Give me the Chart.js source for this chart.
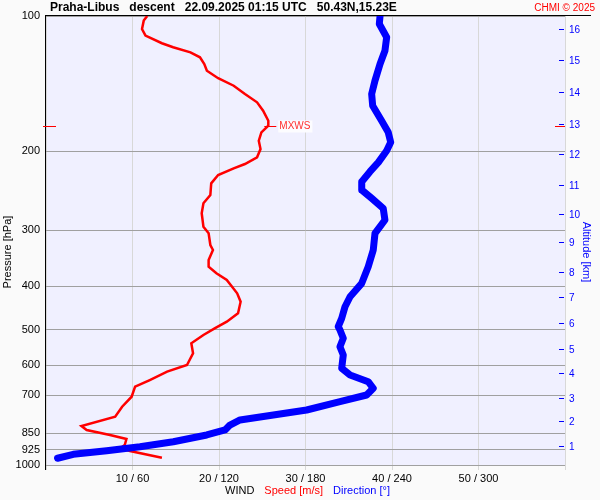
<!DOCTYPE html>
<html>
<head>
<meta charset="utf-8">
<script src="https://cdn.jsdelivr.net/npm/chart.js@4.4.0/dist/chart.umd.min.js"></script>
<style>
  html, body { margin: 0; padding: 0; background: #fafafa; }
  #wrap { width: 600px; height: 500px; }
</style>
</head>
<body>
<div id="wrap"><canvas id="windChart" width="600" height="500"></canvas></div>
<script>
// wind speed profile: pressure [hPa] / speed [m/s]
var speedPressure = [100, 102.4, 106.9, 110.6, 115.0, 117.4, 120.5, 123.6, 127.9, 132.4,
  137.6, 143.0, 149.2, 155.7, 162.5, 171.1, 175.5, 181.6, 189.6, 197.8,
  206.4, 213.6, 218.4, 226.0, 235.9, 250.4, 261.3, 275.0, 294.7, 304.8,
  323.6, 332.0, 349.5, 361.7, 374.2, 387.3, 414.6, 432.8, 459.4, 479.6,
  496.2, 513.5, 535.8, 563.9, 598.8, 619.7, 646.7, 669.3, 704.6, 741.7,
  780.5, 818.9, 835.6, 857.4, 875.2, 902.6, 917.9, 930.8, 963.2];
var speedValues = [11.7, 11.3, 11.1, 11.5, 13.4, 14.7, 16.7, 17.8, 18.3, 18.6,
  19.9, 21.7, 23.0, 24.4, 25.1, 25.7, 25.7, 24.9, 24.6, 24.8,
  24.4, 23.0, 21.7, 19.9, 19.1, 19.0, 18.2, 18.0, 18.2, 18.8,
  19.0, 19.3, 18.8, 18.8, 19.7, 20.9, 22.1, 22.5, 22.2, 20.9,
  19.5, 18.2, 16.8, 17.0, 16.3, 14.0, 12.0, 10.3, 9.9, 8.8,
  8.0, 4.1, 4.7, 7.4, 9.3, 9.1, 8.6, 9.7, 13.4];

// wind direction profile: pressure [hPa] / direction [deg]
var dirPressure = [100, 104.2, 111.5, 119.5, 127.9, 139.3, 149.2, 158.4, 171.1, 181.6,
  191.1, 199.5, 211.8, 222.2, 233.9, 244.1, 254.7, 268.1, 284.7, 304.8,
  332.0, 361.7, 393.9, 421.9, 444.1, 471.4, 492.0, 500.4, 522.2, 545.3,
  568.9, 609.0, 630.4, 652.4, 674.8, 698.4, 722.8, 754.3, 773.7, 793.9,
  814.8, 835.6, 857.4, 887.8, 910.6, 929.4, 946.7, 966.0];
var dirValues = [231.7, 231.2, 236.3, 235.1, 231.7, 228.2, 225.9, 226.6, 232.8, 237.4,
  239.1, 236.3, 230.5, 224.7, 219.0, 219.0, 225.9, 233.9, 235.1, 228.2,
  227.0, 223.5, 219.0, 210.9, 207.4, 205.1, 202.7, 203.9, 206.2, 203.9,
  206.2, 205.1, 210.9, 223.5, 227.0, 222.4, 203.9, 180.8, 157.7, 134.6,
  127.6, 124.2, 111.5, 88.3, 65.2, 42.1, 18.9, 8.0];

// axes
var pressureTicks = [100, 200, 300, 400, 500, 600, 700, 850, 925, 1000];
var speedTicks = [10, 20, 30, 40, 50];
var altitudeKm = [1, 2, 3, 4, 5, 6, 7, 8, 9, 10, 11, 12, 13, 14, 15, 16];
var altitudePressure = [912.1, 802.3, 712.9, 627.0, 554.4, 485.3, 424.8, 373.6, 320.3, 277.5,
  239.0, 204.0, 174.9, 148.4, 126.0, 107.4];

// max wind
var mxwsPressure = 175.5;
var mxwsSpeed = 25.7;

var FONT = '"Liberation Sans", Arial, sans-serif';
Chart.defaults.font.family = FONT;

var speedData = speedPressure.map(function(p, i) { return { x: speedValues[i], y: p }; });
var dirData = dirPressure.map(function(p, i) { return { x: dirValues[i], y: p }; });

var decor = {
    id: 'decor',
    beforeDraw: function(chart) {
        var c = chart.ctx, a = chart.chartArea;
        c.save();
        c.fillStyle = '#fafafa';
        c.fillRect(0, 0, chart.width, chart.height);
        c.fillStyle = '#f0f0ff';
        c.fillRect(a.left, a.top, a.right - a.left, a.bottom - a.top);
        c.restore();
    },
    afterDraw: function(chart) {
        var c = chart.ctx, a = chart.chartArea;
        var xs = chart.scales.x, yp = chart.scales.y, ya = chart.scales.yAlt;
        c.save();

        // frame lines
        c.strokeStyle = '#000';
        c.lineWidth = 1;
        c.beginPath();
        c.moveTo(45, 15.5); c.lineTo(591, 15.5);
        c.moveTo(45.5, 15); c.lineTo(45.5, 470);
        c.stroke();

        // altitude tick marks
        c.strokeStyle = '#0000ff';
        c.beginPath();
        ya.ticks.forEach(function(t) {
            var py = Math.round(ya.getPixelForValue(t.value)) - 0.5;
            c.moveTo(a.right - 6, py); c.lineTo(a.right - 1, py);
        });
        c.stroke();

        // max wind marker
        var my = Math.round(yp.getPixelForValue(mxwsPressure)) + 0.5;
        var mx = xs.getPixelForValue(mxwsSpeed);
        c.strokeStyle = '#ff0000';
        c.beginPath();
        c.moveTo(43, my); c.lineTo(56, my);
        c.moveTo(a.right - 10, my); c.lineTo(a.right, my);
        c.moveTo(mx - 4, my); c.lineTo(mx + 8, my);
        c.stroke();
        c.font = '10px ' + FONT;
        c.textBaseline = 'middle';
        var w = c.measureText('MXWS').width;
        c.fillStyle = '#fcfcff';
        c.fillRect(mx + 10, my - 6, w + 3, 12);
        c.fillStyle = '#ff3030';
        c.fillText('MXWS', mx + 11, my);

        // title
        c.fillStyle = '#000';
        c.font = 'bold 12px ' + FONT;
        c.textAlign = 'left';
        c.fillText('Praha-Libus   descent   22.09.2025 01:15 UTC   50.43N,15.23E', 50, 8);
        c.font = '10px ' + FONT;
        c.fillStyle = '#ff0000';
        c.textAlign = 'right';
        c.fillText('CHMI \u00a9 2025', 595, 8);

        // bottom legend text
        c.font = '11px ' + FONT;
        c.textAlign = 'left';
        var x = 225;
        c.fillStyle = '#000';
        c.fillText('WIND', x, 491);
        x += c.measureText('WIND').width + 10;
        c.fillStyle = '#ff0000';
        c.fillText('Speed [m/s]', x, 491);
        x += c.measureText('Speed [m/s]').width + 10;
        c.fillStyle = '#0000ff';
        c.fillText('Direction [\u00b0]', x, 491);

        // axis titles
        c.textAlign = 'center';
        c.fillStyle = '#000';
        c.save();
        c.translate(8, 252);
        c.rotate(-Math.PI / 2);
        c.fillText('Pressure [hPa]', 0, 0);
        c.restore();
        c.fillStyle = '#0000ff';
        c.save();
        c.translate(586, 252);
        c.rotate(Math.PI / 2);
        c.fillText('Altitude [km]', 0, 0);
        c.restore();

        c.restore();
    }
};

var windChart = new Chart(document.getElementById('windChart').getContext('2d'), {
    type: 'scatter',
    data: {
        datasets: [{
            label: 'Direction',
            data: dirData,
            xAxisID: 'xd',
            yAxisID: 'y',
            showLine: true,
            borderColor: '#0000ff',
            borderWidth: 7,
            borderCapStyle: 'round',
            borderJoinStyle: 'round',
            pointRadius: 0,
            tension: 0
        }, {
            label: 'Speed',
            data: speedData,
            xAxisID: 'x',
            yAxisID: 'y',
            showLine: true,
            borderColor: '#ff0000',
            borderWidth: 2.5,
            pointRadius: 0,
            tension: 0
        }]
    },
    options: {
        responsive: false,
        animation: false,
        devicePixelRatio: 1,
        layout: { padding: { top: 16, left: 0, right: 0, bottom: 0 } },
        plugins: { legend: { display: false }, tooltip: { enabled: false } },
        scales: {
            x: {
                type: 'linear', min: 0, max: 60, position: 'bottom',
                afterBuildTicks: function(axis) {
                    axis.ticks = [0].concat(speedTicks, [60]).map(function(v) { return { value: v }; });
                },
                ticks: {
                    callback: function(v) { return speedTicks.indexOf(v) >= 0 ? v + ' / ' + v * 6 : ''; },
                    color: '#000', font: { size: 11 }, padding: 2, maxRotation: 0, autoSkip: false
                },
                grid: { color: '#d8d8d8', tickLength: 5 },
                border: { display: false },
                afterFit: function(s) { s.height = 35; }
            },
            xd: { type: 'linear', min: 0, max: 360, display: false },
            y: {
                type: 'logarithmic', position: 'left', reverse: true, min: 100, max: 1000,
                afterBuildTicks: function(axis) {
                    axis.ticks = pressureTicks.map(function(v) { return { value: v }; });
                },
                ticks: {
                    callback: function(v) { return String(v); },
                    color: '#000', font: { size: 11 }, padding: 6, autoSkip: false
                },
                grid: { color: '#a0a0a0', drawTicks: false },
                border: { display: false },
                afterFit: function(s) { s.width = 46; }
            },
            yAlt: {
                type: 'logarithmic', position: 'right', reverse: true, min: 100, max: 1000,
                afterBuildTicks: function(axis) {
                    axis.ticks = altitudePressure.map(function(v) { return { value: v }; });
                },
                ticks: {
                    callback: function(v) { return String(altitudeKm[altitudePressure.indexOf(v)]); },
                    color: '#0000ff', font: { size: 10 }, padding: 4, autoSkip: false
                },
                grid: { display: false, drawTicks: false },
                border: { display: true, color: '#d8d8d8' },
                afterFit: function(s) { s.width = 35; }
            }
        }
    },
    plugins: [decor]
});
</script>
</body>
</html>
